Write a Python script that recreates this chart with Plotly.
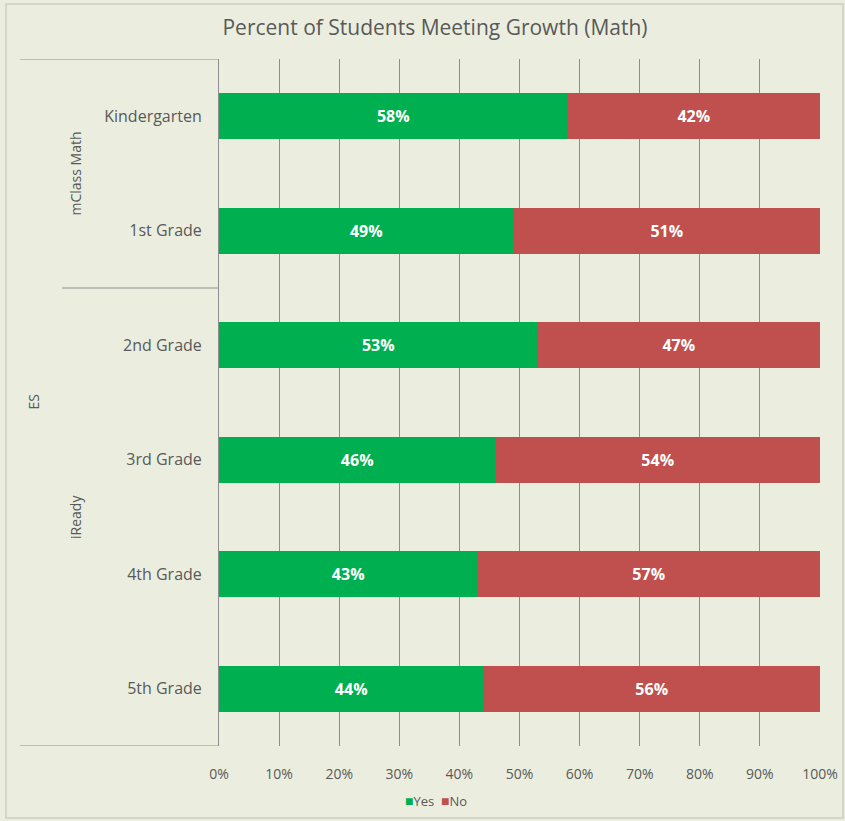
import plotly.graph_objects as go

# Grade rows (top to bottom) and their assessment groups
grades = ["Kindergarten", "1st Grade", "2nd Grade", "3rd Grade", "4th Grade", "5th Grade"]
groups = [("mClass Math", 0, 1), ("iReady", 2, 5)]
level = "ES"

series_names = ["Yes", "No"]
yes_pct = [58, 49, 53, 46, 43, 44]
no_pct = [42, 51, 47, 54, 57, 56]

x_ticks = [0, 10, 20, 30, 40, 50, 60, 70, 80, 90, 100]

GREEN = "#00B050"
RED = "#C0504D"
BG = "#EBEEDF"
TEXT = "#595959"
GRID = "#8E8E8E"
FONT = "Open Sans"

W, H = 845, 821
L, R, T, B = 219, 25, 59, 75
pw, ph = W - L - R, H - T - B


def px_x(px):
    return (px - L) / pw


def px_y(py):
    return (H - B - py) / ph


fig = go.Figure()
colors = [GREEN, RED]
for name, vals, col in zip(series_names, [yes_pct, no_pct], colors):
    fig.add_trace(go.Bar(
        name=name, y=grades, x=[v / 100 for v in vals], orientation="h",
        marker=dict(color=col, line=dict(width=0)),
        text=[f"{v}%" for v in vals], textposition="inside",
        insidetextanchor="middle",
        textfont=dict(family=FONT, size=16, color="white", weight="bold"),
        hoverinfo="skip", showlegend=False,
    ))

shapes = []
# group separator lines on the category side
shapes.append(dict(type="line", xref="paper", yref="y", x0=px_x(20), x1=0,
                   y0=-0.5, y1=-0.5, line=dict(color=GRID, width=1)))
shapes.append(dict(type="line", xref="paper", yref="y", x0=px_x(20), x1=0,
                   y0=len(grades) - 0.5, y1=len(grades) - 0.5, line=dict(color=GRID, width=1)))
for gname, i0, i1 in groups[:-1]:
    shapes.append(dict(type="line", xref="paper", yref="y", x0=px_x(62), x1=0,
                       y0=i1 + 0.5, y1=i1 + 0.5, line=dict(color=GRID, width=1)))
# chart frame
shapes.append(dict(type="rect", xref="paper", yref="paper", x0=px_x(6), x1=px_x(843),
                   y0=px_y(818), y1=px_y(4), line=dict(color="#D4D6CC", width=2),
                   layer="below"))

annotations = []
for gname, i0, i1 in groups:
    annotations.append(dict(text=gname, xref="paper", yref="y", x=px_x(75),
                            y=(i0 + i1) / 2, textangle=-90, showarrow=False,
                            xanchor="center", yanchor="middle",
                            font=dict(family=FONT, size=14, color=TEXT)))
annotations.append(dict(text=level, xref="paper", yref="y", x=px_x(33),
                        y=(len(grades) - 1) / 2, textangle=-90, showarrow=False,
                        xanchor="center", yanchor="middle",
                        font=dict(family=FONT, size=14, color=TEXT)))

# compact legend: colored square followed by the series name
legend_text = "&nbsp;&nbsp;".join(
    f"<span style='color:{c}; font-size:14px'>■</span>{n}"
    for n, c in zip(series_names, colors)
)
annotations.append(dict(text=legend_text, xref="paper", yref="paper",
                        x=px_x(436), y=px_y(800), xanchor="center", yanchor="middle",
                        showarrow=False, font=dict(family=FONT, size=13, color=TEXT)))

fig.update_layout(
    barmode="stack",
    bargap=0.6,
    width=W, height=H,
    margin=dict(l=L, r=R, t=T, b=B, pad=0),
    paper_bgcolor=BG, plot_bgcolor=BG,
    title=dict(text="Percent of Students Meeting Growth (Math)", x=435 / W,
               xref="container", y=1 - 28 / H, yanchor="middle", xanchor="center",
               font=dict(family=FONT, size=21, color=TEXT)),
    xaxis=dict(range=[0, 1], tickvals=[v / 100 for v in x_ticks],
               ticktext=[f"{v}%" for v in x_ticks], showgrid=True,
               gridcolor=GRID, gridwidth=1, zeroline=False, showline=False,
               ticks="", ticklabelstandoff=18, automargin=False,
               tickfont=dict(family=FONT, size=14, color=TEXT), fixedrange=True),
    yaxis=dict(range=[len(grades) - 0.5, -0.5], showgrid=False, zeroline=False,
               showline=True, linecolor=GRID, linewidth=1, ticks="",
               ticklabelstandoff=13, automargin=False,
               tickfont=dict(family=FONT, size=16, color=TEXT), fixedrange=True),
    showlegend=False,
    shapes=shapes,
    annotations=annotations,
    uniformtext=dict(mode="show", minsize=13),
)

fig.write_html("out.html")
